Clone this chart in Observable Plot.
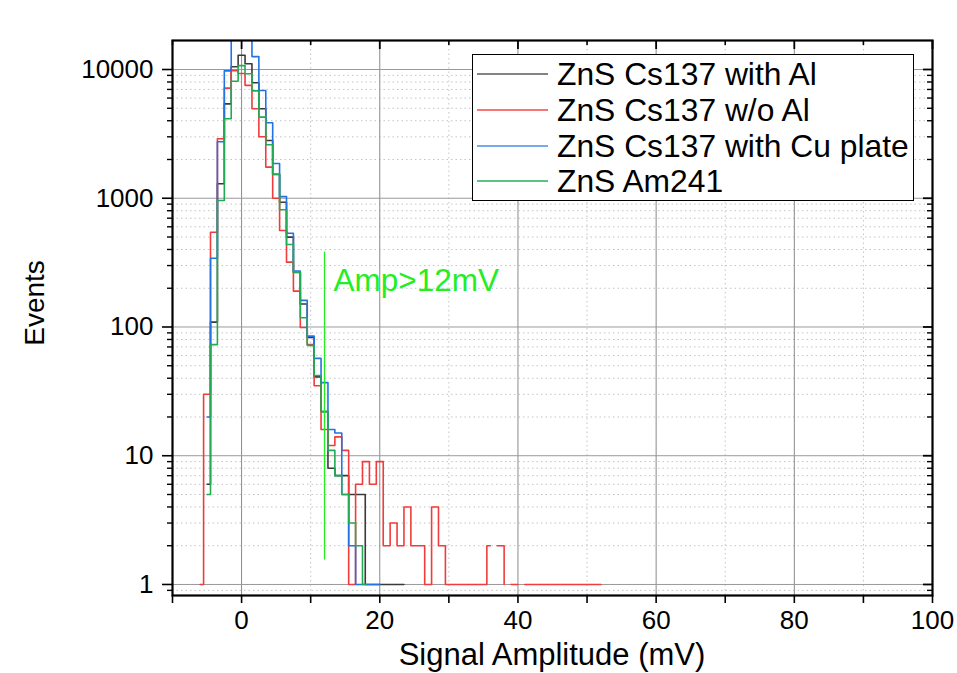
<!DOCTYPE html>
<html><head><meta charset="utf-8">
<script src="https://cdn.jsdelivr.net/npm/d3@7"></script>
<script src="https://cdn.jsdelivr.net/npm/@observablehq/plot@0.6"></script>
<style>
html,body{margin:0;padding:0;background:#fff;overflow:hidden}
#wrap{position:relative;width:957px;height:673px;font-family:"Liberation Sans",Arial,sans-serif}
#legend{position:absolute;left:472px;top:54px;width:442px;height:147px;border:1px solid #000;background:#fff;box-sizing:border-box}
.row{position:absolute;left:0;height:36px;width:100%}
.row svg{position:absolute;left:4px;top:0}
.row span{position:absolute;left:84px;top:0;line-height:36px;font-size:31.8px;color:#000;white-space:nowrap}
</style></head><body><div id="wrap"></div>
<script>
// ---- data (bin centres in mV, counts) ----
const seriesNames = ["ZnS Cs137 with Al","ZnS Cs137 w/o Al","ZnS Cs137 with Cu plate","ZnS Am241"];
const seriesColors = ["#3a3a3a","#f03c3c","#2474e0","#22aa55"];
const legendColors = ["#5a5a5a","#f04848","#4a8ee8","#22b055"];

const blackX = [-5,-4,-3,-2,-1,0,1,2,3,4,5,6,7,8,9,10,11,12,13,14,15,16,17,18.8,23.5];
const blackY = [6,109,1295,5410,10500,12900,11070,7890,4950,2810,1530,931,499,265,151,83,41,22,8,7,7,5,5,1,1];

const redX = [-6,-5,-4,-3,-2,-1,0,1,2,3,4,5,6,7,8,9,10,11,12,13,14,15,16,17,18,19,20,21,22,23,24,25,26,27,28,29,30,31,32,33,34,35,36,36.5,37,38,38,38.5,39,40,40.5,41,42,43,44,45,46,47,48,49,50,51,52];
const redY = [1,30,545,2900,7170,9800,9300,7530,4950,3000,1745,1000,561,319,190,99,73,35,16,12,14,11,1,6,9,6,9,2,3,2,4,2,2,1,4,2,1,1,1,1,1,1,2,null,2,2,1,null,1,1,null,1,1,1,1,1,1,1,1,1,1,1,1];

const blueX = [-5,-4,-3,-2,-1,0,1,2,3,4,5,6,7,8,9,10,11,12,13,14,15,16,17,18,19,20];
const blueY = [20,342,2750,9750,26000,30000,24000,12600,6870,3860,1860,1030,535,272,161,85,57,37,16,15,5,2,1,1,1,1];

const greenX = [-5,-4,-3,-2,-1,0,1,2,3,4,5,6,7,8,9,10,11,12,13,14,15,16,17,18];
const greenY = [5,73,960,4140,8110,10720,9260,6820,4270,2600,1540,813,437,267,118,72,42,22,11,7,5,3,2,1];

const cutX = 12, cutLow = 1.55, cutHigh = 380;
const cutLabel = "Amp>12mV", cutLabelX = 13.3, cutLabelY = 228;

const xMajor = [0,20,40,60,80,100];
const xMinor = [-10,10,30,50,70,90];
const xGridMajor = [0,20,40,60,80];
const yMajor = [1,10,100,1000,10000];
const yMinor = [0.9,2,3,4,5,6,7,8,9,20,30,40,50,60,70,80,90,200,300,400,500,600,700,800,900,2000,3000,4000,5000,6000,7000,8000,9000];

const xs = [blackX, redX, blueX, greenX];
const ys = [blackY, redY, blueY, greenY];
const rows = seriesNames.map((n, i) => xs[i].map((x, j) => ({x, y: ys[i][j], s: n})));

const W = 957, H = 673, mL = 172, mR = 25, mT = 40, mB = 78;
const fw = W - mL - mR, fh = H - mT - mB;
const font = "Liberation Sans, Arial, sans-serif";

const chart = Plot.plot({
  width: W, height: H,
  marginLeft: mL, marginRight: mR, marginTop: mT, marginBottom: mB,
  style: {fontFamily: font, background: "#fff", color: "#000"},
  x: {domain: [-10, 100], label: null},
  y: {type: "log", domain: [0.821, 16800], label: null},
  marks: [
    Plot.gridX(xMinor.filter(d => d > -10), {stroke: "#c4c4c4", strokeOpacity: 1, strokeDasharray: "1.5,3"}),
    Plot.gridY(yMinor, {stroke: "#c4c4c4", strokeOpacity: 1, strokeDasharray: "1.5,3"}),
    Plot.gridX(xGridMajor, {stroke: "#8a8a8a", strokeOpacity: 1}),
    Plot.gridY(yMajor, {stroke: "#9a9a9a", strokeOpacity: 1}),
    ...[0,1,2,3].map(i => Plot.line(rows[i], {x: "x", y: "y", curve: "step", stroke: seriesColors[i], strokeWidth: 1.6, clip: true})),
    Plot.ruleX([cutX], {x: d => d, y1: cutLow, y2: cutHigh, stroke: "#22ee22", strokeWidth: 1.3}),
    Plot.text([cutLabel], {x: cutLabelX, y: cutLabelY, text: d => d, textAnchor: "start", fill: "#22ee22", fontSize: 31.5}),
    // outward bottom / left ticks
    Plot.axisX(xMajor, {anchor: "bottom", tickSize: 8, tickPadding: 7, fontSize: 26, strokeWidth: 1.6, tickFormat: d => String(d), label: null}),
    Plot.axisX(xMinor, {anchor: "bottom", tickSize: 8, strokeWidth: 1.6, tickFormat: () => "", label: null}),
    Plot.axisY(yMajor, {anchor: "left", tickSize: 10, tickPadding: 9, fontSize: 26, strokeWidth: 1.6, tickFormat: d => String(d), label: null}),
    Plot.axisY(yMinor, {anchor: "left", tickSize: 5, strokeWidth: 1.4, tickFormat: () => "", label: null}),
    // inward top / right ticks
    Plot.ruleX(xMajor, {x: d => d, insetBottom: fh - 9, stroke: "#000", strokeWidth: 1.8}),
    Plot.ruleX(xMinor, {x: d => d, insetBottom: fh - 5, stroke: "#000", strokeWidth: 1.6}),
    Plot.ruleY(yMajor, {y: d => d, insetLeft: fw - 9, stroke: "#000", strokeWidth: 1.8}),
    Plot.ruleY(yMinor, {y: d => d, insetLeft: fw - 5, stroke: "#000", strokeWidth: 1.4}),
    Plot.frame({stroke: "#000", strokeWidth: 2.2})
  ]
});

const wrap = document.getElementById("wrap");
wrap.appendChild(chart);

// axis titles
const svg = d3.select(chart);
svg.append("text").attr("transform", "translate(44,303) rotate(-90)")
  .attr("text-anchor", "middle").attr("font-size", 28).attr("font-family", font).attr("fill", "#000").text("Events");
svg.append("text").attr("x", mL + fw / 2).attr("y", 665)
  .attr("text-anchor", "middle").attr("font-size", 31).attr("font-family", font).attr("fill", "#000").text("Signal Amplitude (mV)");

// legend
const leg = document.createElement("div");
leg.id = "legend";
seriesNames.forEach((n, i) => {
  const r = document.createElement("div");
  r.className = "row";
  r.style.top = (1 + i * 35.8) + "px";
  r.innerHTML = `<svg width="72" height="36"><line x1="0" x2="71" y1="18" y2="18" stroke="${legendColors[i]}" stroke-width="1.6"/></svg><span>${n}</span>`;
  leg.appendChild(r);
});
wrap.appendChild(leg);
</script>
</body></html>
